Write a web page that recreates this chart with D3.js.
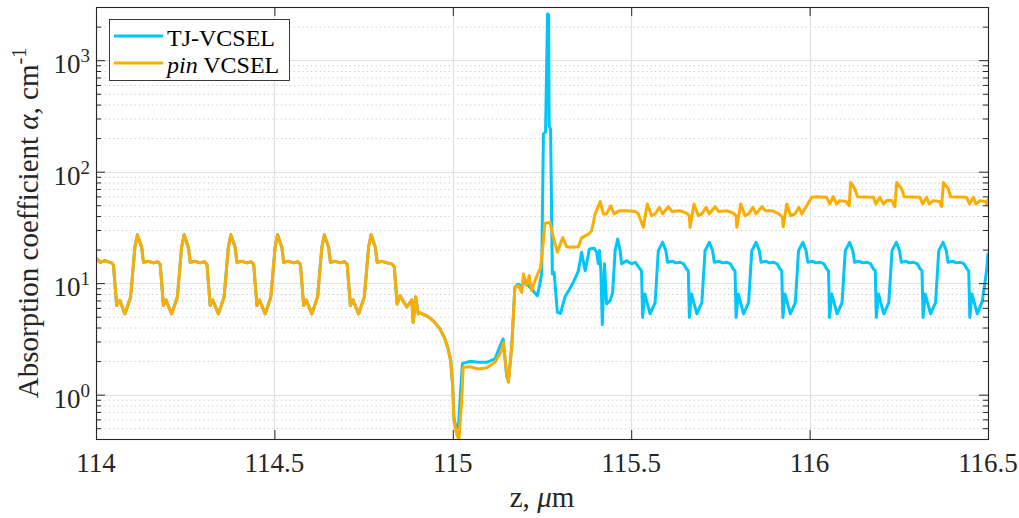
<!DOCTYPE html>
<html>
<head>
<meta charset="utf-8">
<script src="https://cdn.jsdelivr.net/npm/d3@7"></script>
<style>
  body { margin: 0; background: #fff; }
  svg { display: block; }
</style>
</head>
<body>
<svg id="chart" width="1019" height="518"></svg>
<script>
// ---- data -------------------------------------------------------------
// Absorption coefficient (cm^-1) along the growth axis z (µm).
// Both structures are identical up to the active region near z = 115 µm.
const commonProfile = [
  [114.000,16.8],[114.011,15.4],[114.025,15.9],[114.044,15.2],[114.049,14.5],[114.058,6.3],[114.067,7.0],[114.081,5.3],[114.097,7.5],[114.109,21.0],
  [114.116,27.2],[114.128,20.9],[114.133,15.4],[114.147,15.7],[114.161,15.2],[114.173,15.6],[114.180,14.7],[114.189,6.3],[114.196,7.07],[114.212,5.3],[114.228,7.5],[114.240,21.0],
  [114.247,27.2],[114.259,20.9],[114.264,15.4],[114.278,15.7],[114.292,15.2],[114.304,15.6],[114.311,14.7],[114.320,6.3],[114.327,7.07],[114.343,5.3],[114.359,7.5],[114.371,21.0],
  [114.378,27.2],[114.390,20.9],[114.395,15.4],[114.409,15.7],[114.423,15.2],[114.435,15.6],[114.442,14.7],[114.451,6.3],[114.458,7.07],[114.474,5.3],[114.490,7.5],[114.502,21.0],
  [114.509,27.2],[114.521,20.9],[114.526,15.4],[114.540,15.7],[114.554,15.2],[114.566,15.6],[114.573,14.7],[114.582,6.3],[114.589,7.07],[114.605,5.3],[114.621,7.5],[114.633,21.0],
  [114.640,27.2],[114.652,20.9],[114.657,15.4],[114.671,15.7],[114.685,15.2],[114.697,15.6],[114.704,14.7],[114.713,6.3],[114.720,7.07],[114.736,5.3],[114.752,7.5],[114.764,21.0],
  [114.771,27.2],[114.783,20.9],[114.788,15.4],[114.802,15.7],[114.816,15.2],[114.829,14.9],[114.836,14.0],[114.844,6.5],[114.852,7.7],[114.871,6.1],[114.885,7.1],[114.889,4.45],
  [114.896,7.5],[114.903,5.3],[114.908,5.4],[114.927,5.1],[114.945,4.6],[114.964,3.9],[114.978,3.16],[114.987,2.57],[114.994,2.02]
];

// TJ-VCSEL beyond the shared section
const tjProfile = [
  [115.000,1.16],[115.003,0.62],[115.010,0.50],[115.016,0.52],[115.022,1.10],[115.027,1.90],[115.048,1.99],[115.071,1.95],[115.095,1.95],[115.118,2.09],
  [115.132,2.70],[115.141,3.16],[115.151,1.45],[115.156,1.34],[115.165,2.66],[115.174,9.2],[115.184,9.8],[115.193,9.3],[115.203,10.5],[115.212,9.5],
  [115.224,8.6],[115.237,7.7],[115.243,9.5],[115.249,12.1],[115.254,218],[115.260,226],[115.2655,2600],[115.2685,2550],[115.270,259],[115.274,240],
  [115.279,12.1],[115.284,12.5],[115.293,5.47],[115.302,5.36],[115.314,7.46],[115.338,10.2],[115.352,12.9],[115.361,18.9],[115.371,12.9],[115.383,20.3],
  [115.396,20.6],[115.403,18.9],[115.408,14.9],[115.411,19.6],[115.415,12.9],[115.419,4.24],[115.425,14.9],[115.431,6.51],[115.441,6.97],[115.448,8.27],
  [115.455,19.6],[115.462,24.9],[115.469,19.6],[115.473,14.9],[115.487,15.9],[115.501,14.9],[115.511,15.4],[115.525,13.4],[115.529,12.9],
  [115.532,4.93],[115.538,8.0],[115.553,5.3],[115.567,6.7],[115.576,19.6],[115.588,23.2],[115.597,19.6],[115.602,15.4],[115.616,15.7],[115.625,15.2],[115.637,15.4],[115.647,14.9],[115.655,13.4],[115.660,12.9],
  [115.663,4.93],[115.669,8.0],[115.684,5.3],[115.698,6.7],[115.707,19.6],[115.719,23.2],[115.728,19.6],[115.733,15.4],[115.747,15.7],[115.756,15.2],[115.768,15.4],[115.778,14.9],[115.786,13.4],[115.791,12.9],
  [115.794,4.93],[115.800,8.0],[115.815,5.3],[115.829,6.7],[115.838,19.6],[115.850,23.2],[115.859,19.6],[115.864,15.4],[115.878,15.7],[115.887,15.2],[115.899,15.4],[115.909,14.9],[115.917,13.4],[115.922,12.9],
  [115.925,4.93],[115.931,8.0],[115.946,5.3],[115.960,6.7],[115.969,19.6],[115.981,23.2],[115.990,19.6],[115.995,15.4],[116.009,15.7],[116.018,15.2],[116.030,15.4],[116.040,14.9],[116.048,13.4],[116.053,12.9],
  [116.056,4.93],[116.062,8.0],[116.077,5.3],[116.091,6.7],[116.100,19.6],[116.112,23.2],[116.121,19.6],[116.126,15.4],[116.140,15.7],[116.149,15.2],[116.161,15.4],[116.171,14.9],[116.179,13.4],[116.184,12.9],
  [116.187,4.93],[116.193,8.0],[116.208,5.3],[116.222,6.7],[116.231,19.6],[116.243,23.2],[116.252,19.6],[116.257,15.4],[116.271,15.7],[116.280,15.2],[116.292,15.4],[116.302,14.9],[116.310,13.4],[116.315,12.9],
  [116.318,4.93],[116.324,8.0],[116.339,5.3],[116.353,6.7],[116.362,19.6],[116.374,23.2],[116.383,19.6],[116.388,15.4],[116.402,15.7],[116.411,15.2],[116.423,15.4],[116.433,14.9],[116.441,13.4],[116.446,12.9],
  [116.449,4.93],[116.455,8.0],[116.470,5.3],[116.484,6.9],[116.496,12.9],[116.500,18.3]
];

// pin VCSEL beyond the shared section
const pinProfile = [
  [115.000,1.16],[115.003,0.585],[115.011,0.444],[115.017,0.395],[115.025,0.884],[115.029,1.76],[115.048,1.78],[115.071,1.70],[115.095,1.74],[115.118,1.95],
  [115.137,2.48],[115.142,2.94],[115.151,1.53],[115.156,1.29],[115.165,2.66],[115.174,9.17],[115.184,9.5],[115.193,8.27],[115.198,12.1],[115.207,9.5],
  [115.214,11.7],[115.221,8.57],[115.230,10.5],[115.240,12.5],[115.246,13.9],[115.254,24.0],[115.258,34.4],[115.272,35.1],[115.282,25.7],[115.293,18.9],
  [115.308,25.7],[115.319,21.2],[115.337,21.0],[115.352,21.2],[115.361,25.5],[115.380,27.5],[115.389,29.5],[115.399,41.8],[115.413,54.0],[115.422,41.8],
  [115.431,41.8],[115.443,49.5],[115.452,41.8],[115.467,44.7],[115.487,44.7],[115.511,44.0],[115.520,41.8],
  [115.534,31.7],[115.545,51.3],[115.557,40.3],[115.567,41.8],[115.579,47.8],[115.588,41.8],[115.604,48.5],[115.614,44.0],[115.637,44.7],[115.656,42.3],[115.663,40.0],
  [115.665,31.7],[115.676,51.3],[115.688,40.3],[115.698,41.8],[115.710,47.8],[115.719,41.8],[115.735,48.5],[115.745,44.0],[115.768,44.7],[115.787,42.3],[115.794,40.0],
  [115.796,31.7],[115.807,51.3],[115.819,40.3],[115.829,41.8],[115.841,47.8],[115.850,41.8],[115.866,48.5],[115.876,44.7],[115.894,44.7],[115.912,42.3],[115.924,39.0],
  [115.926,32.1],[115.936,51.3],[115.947,40.3],[115.959,41.8],[115.970,47.8],[115.978,41.8],[115.992,49.5],[116.006,58.9],[116.020,59.7],[116.048,58.9],
  [116.057,51.3],[116.066,59.7],[116.076,51.3],[116.085,55.0],[116.102,54.0],[116.111,49.5],
  [116.115,80.0],[116.127,70.0],[116.134,59.7],[116.179,58.9],[116.186,51.3],[116.197,58.9],[116.207,51.3],[116.216,55.0],[116.230,55.0],[116.239,48.5],
  [116.244,80.0],[116.258,70.0],[116.265,59.7],[116.309,58.9],[116.317,51.3],[116.328,58.9],[116.335,51.3],[116.347,55.0],[116.364,54.0],[116.370,48.5],
  [116.375,80.0],[116.389,70.0],[116.395,59.7],[116.440,58.9],[116.448,51.3],[116.459,58.9],[116.466,51.3],[116.478,55.0],[116.492,54.0],[116.498,51.3],[116.500,56.0]
];

const seriesNames = ["TJ-VCSEL", "pin VCSEL"];
const seriesColors = ["#00c6fb", "#fdad00"];

const zRange = [114, 116.5];
const alphaRange = [0.4, 3000];
const xTickValues = [114, 114.5, 115, 115.5, 116, 116.5];
const xTickLabels = ["114", "114.5", "115", "115.5", "116", "116.5"];
const yTickValues = [1, 10, 100, 1000];
const yTickExponents = ["0", "1", "2", "3"];

// ---- layout -----------------------------------------------------------
const FONT = '"Liberation Serif","Times New Roman",Times,serif';
const AXIS_COLOR = "#262626";
const plot = { left: 96, right: 988, top: 7, bottom: 439 };

const svg = d3.select("#chart");
const x = d3.scaleLinear().domain(zRange).range([plot.left, plot.right]);
const y = d3.scaleLog().domain(alphaRange).range([plot.bottom, plot.top]);

const allYTicks = y.ticks();
const minorY = allYTicks.filter(v => !yTickValues.some(d => Math.abs(v - d) < 1e-9) && v > alphaRange[0] && v < alphaRange[1]);

// grid
const grid = svg.append("g");
grid.selectAll("line.minor").data(minorY).join("line")
  .attr("x1", plot.left).attr("x2", plot.right)
  .attr("y1", d => y(d) + 0.5).attr("y2", d => y(d) + 0.5)
  .attr("stroke", "#c9c9c9").attr("stroke-width", 1).attr("stroke-dasharray", "1.3,3");
grid.selectAll("line.majY").data(yTickValues).join("line")
  .attr("x1", plot.left).attr("x2", plot.right)
  .attr("y1", d => Math.round(y(d)) + 0.5).attr("y2", d => Math.round(y(d)) + 0.5)
  .attr("stroke", "#e1e1e1").attr("stroke-width", 1.2);
grid.selectAll("line.majX").data(xTickValues).join("line")
  .attr("y1", plot.top).attr("y2", plot.bottom)
  .attr("x1", d => Math.round(x(d)) + 0.5).attr("x2", d => Math.round(x(d)) + 0.5)
  .attr("stroke", "#e1e1e1").attr("stroke-width", 1.2);

// curves
svg.append("defs").append("clipPath").attr("id", "plotClip")
  .append("rect").attr("x", plot.left).attr("y", plot.top)
  .attr("width", plot.right - plot.left).attr("height", plot.bottom - plot.top);

const line = d3.line().x(d => x(d[0])).y(d => y(d[1]));
const curves = [commonProfile.concat(tjProfile), commonProfile.concat(pinProfile)];
svg.append("g").attr("clip-path", "url(#plotClip)")
  .selectAll("path").data(curves).join("path")
  .attr("d", line)
  .attr("fill", "none")
  .attr("stroke", (d, i) => seriesColors[i])
  .attr("stroke-width", 3)
  .attr("stroke-linejoin", "round")
  .attr("stroke-linecap", "round");

// axes (box with inward ticks)
function styleAxis(g) {
  g.select(".domain").remove();
  g.selectAll(".tick line").attr("stroke", AXIS_COLOR).attr("stroke-width", 1);
  g.selectAll(".tick text").remove();
}
svg.append("g").attr("transform", `translate(0,${plot.bottom})`)
  .call(d3.axisBottom(x).tickValues(xTickValues).tickSize(-9)).call(styleAxis);
svg.append("g").attr("transform", `translate(0,${plot.top})`)
  .call(d3.axisTop(x).tickValues(xTickValues).tickSize(-9)).call(styleAxis);
svg.append("g").attr("transform", `translate(${plot.left},0)`)
  .call(d3.axisLeft(y).tickValues(yTickValues).tickSize(-9)).call(styleAxis);
svg.append("g").attr("transform", `translate(${plot.left},0)`)
  .call(d3.axisLeft(y).tickValues(minorY).tickSize(-5)).call(styleAxis);
svg.append("g").attr("transform", `translate(${plot.right},0)`)
  .call(d3.axisRight(y).tickValues(yTickValues).tickSize(-9)).call(styleAxis);
svg.append("g").attr("transform", `translate(${plot.right},0)`)
  .call(d3.axisRight(y).tickValues(minorY).tickSize(-5)).call(styleAxis);

svg.append("rect")
  .attr("x", plot.left + 0.5).attr("y", plot.top + 0.5)
  .attr("width", plot.right - plot.left).attr("height", plot.bottom - plot.top)
  .attr("fill", "none").attr("stroke", AXIS_COLOR).attr("stroke-width", 1.1);

// tick labels
svg.append("g").selectAll("text").data(xTickValues).join("text")
  .attr("x", d => x(d)).attr("y", 472)
  .attr("text-anchor", "middle")
  .attr("font-family", FONT).attr("font-size", 27).attr("fill", AXIS_COLOR)
  .text((d, i) => xTickLabels[i]);

const yLab = svg.append("g").selectAll("text").data(yTickValues).join("text")
  .attr("x", 90).attr("y", d => y(d) + 13)
  .attr("text-anchor", "end")
  .attr("font-family", FONT).attr("font-size", 27).attr("fill", AXIS_COLOR);
yLab.append("tspan").text("10");
yLab.append("tspan").attr("font-size", 19).attr("dy", -11).text((d, i) => yTickExponents[i]);

// axis titles
const xTitle = svg.append("text")
  .attr("x", (plot.left + plot.right) / 2).attr("y", 507)
  .attr("text-anchor", "middle")
  .attr("font-family", FONT).attr("font-size", 29).attr("fill", AXIS_COLOR);
xTitle.append("tspan").text("z, ");
xTitle.append("tspan").attr("font-style", "italic").text("μ");
xTitle.append("tspan").text("m");

const yTitle = svg.append("text")
  .attr("transform", `translate(38,${(plot.top + plot.bottom) / 2}) rotate(-90)`)
  .attr("text-anchor", "middle")
  .attr("font-family", FONT).attr("font-size", 29).attr("fill", AXIS_COLOR);
yTitle.append("tspan").text("Absorption coefficient ");
yTitle.append("tspan").attr("font-style", "italic").text("α");
yTitle.append("tspan").text(", cm");
yTitle.append("tspan").attr("font-size", 20).attr("dy", -12).text("-1");

// legend
const legend = svg.append("g");
legend.append("rect")
  .attr("x", 109.5).attr("y", 19.5).attr("width", 180).attr("height", 61)
  .attr("fill", "#fff").attr("stroke", AXIS_COLOR).attr("stroke-width", 0.9);
const rows = legend.selectAll("g.row").data(seriesNames).join("g")
  .attr("transform", (d, i) => `translate(0,${36 + i * 27})`);
rows.append("line")
  .attr("x1", 114).attr("x2", 163).attr("y1", 0).attr("y2", 0)
  .attr("stroke", (d, i) => seriesColors[i]).attr("stroke-width", 3);
const rowText = rows.append("text")
  .attr("x", 167).attr("y", 10)
  .attr("font-family", FONT).attr("font-size", 24).attr("fill", "#000");
rowText.each(function (d) {
  const t = d3.select(this);
  const parts = d.split(" ");
  if (parts[0] === "pin") {
    t.append("tspan").attr("font-style", "italic").text("pin");
    t.append("tspan").text(" " + parts.slice(1).join(" "));
  } else {
    t.text(d);
  }
});
</script>
</body>
</html>
